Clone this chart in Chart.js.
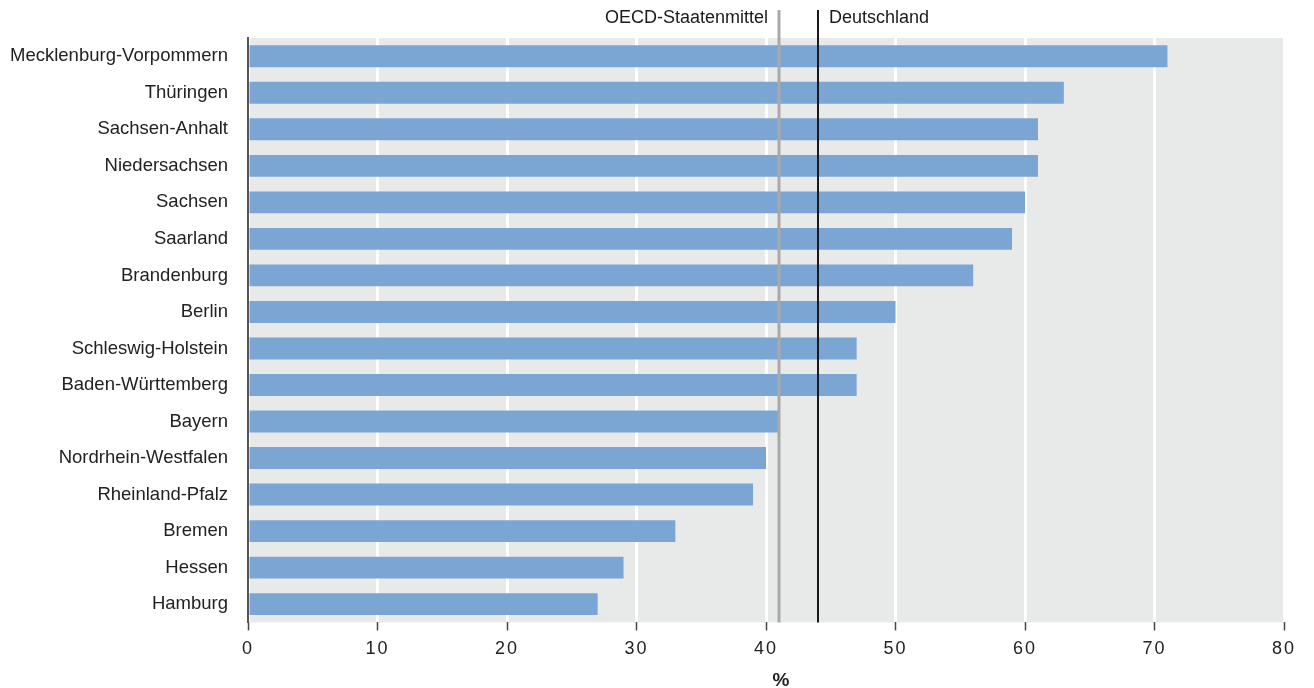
<!DOCTYPE html>
<html><head><meta charset="utf-8">
<script src="https://cdn.jsdelivr.net/npm/chart.js@4"></script>
<style>html,body{margin:0;padding:0;background:#fff;}canvas{display:block;}</style>
</head><body>
<canvas id="c" width="1314" height="688"></canvas>
<script>
const categories = ["Mecklenburg-Vorpommern","Thüringen","Sachsen-Anhalt","Niedersachsen","Sachsen","Saarland","Brandenburg","Berlin","Schleswig-Holstein","Baden-Württemberg","Bayern","Nordrhein-Westfalen","Rheinland-Pfalz","Bremen","Hessen","Hamburg"];
const values = [71, 63, 61, 61, 60, 59, 56, 50, 47, 47, 41, 40, 39, 33, 29, 27];
const refLabels = ["OECD-Staatenmittel", "Deutschland"];
const refValues = [41, 44];
const xTicks = [0, 10, 20, 30, 40, 50, 60, 70, 80];
const axisTitle = "%";

const FONT = "'Liberation Sans', Arial, sans-serif";

const bgPlugin = {
  id: 'bg',
  afterLayout(chart) {
    const s = chart.scales.x;
    if (s && !s._ls) {
      const orig = s.drawLabels.bind(s);
      s.drawLabels = function (ca) {
        const ctx = this.ctx;
        ctx.save();
        ctx.letterSpacing = '2px';
        orig(ca);
        ctx.restore();
      };
      s._ls = true;
    }
  },
  beforeDraw(chart) {
    const {ctx, chartArea: a} = chart;
    ctx.save();
    ctx.fillStyle = '#e8e9e9';
    ctx.fillRect(a.left, a.top, a.right - a.left, a.bottom - a.top);
    ctx.restore();
  }
};
const refPlugin = {
  id: 'refs',
  afterDatasetsDraw(chart) {
    const {ctx, chartArea: a} = chart;
    const xs = chart.scales.x;
    const styles = [{c:'#a9a9a9', w:3, align:'right'}, {c:'#1a1a1a', w:2, align:'left'}];
    ctx.save();
    refValues.forEach((v, i) => {
      const x = Math.round(xs.getPixelForValue(v));
      const s = styles[i];
      ctx.strokeStyle = s.c;
      ctx.lineWidth = s.w;
      ctx.beginPath();
      ctx.moveTo(x, 10);
      ctx.lineTo(x, a.bottom);
      ctx.stroke();
      ctx.fillStyle = '#1a1a1a';
      ctx.font = '18px ' + FONT;
      ctx.textBaseline = 'middle';
      ctx.textAlign = s.align;
      ctx.fillText(refLabels[i], s.align === 'right' ? x - 11 : x + 11, 18);
    });
    ctx.restore();
  },
  afterDraw(chart) {
    const {ctx, chartArea: a} = chart;
    ctx.save();
    ctx.fillStyle = '#222';
    ctx.font = 'bold 19px ' + FONT;
    ctx.textAlign = 'center';
    ctx.textBaseline = 'middle';
    ctx.fillText(axisTitle, (a.left + a.right) / 2 + 15, 681);
    ctx.restore();
  }
};

new Chart(document.getElementById('c'), {
  type: 'bar',
  data: {
    labels: categories,
    datasets: [{ data: values, backgroundColor: '#7ba6d4', borderWidth: 0, categoryPercentage: 1, barPercentage: 0.6 }]
  },
  options: {
    indexAxis: 'y',
    responsive: false,
    animation: false,
    layout: { padding: { top: 38, right: 30, left: 0, bottom: 20 } },
    plugins: { legend: { display: false }, tooltip: { enabled: false } },
    scales: {
      x: {
        min: 0, max: 80,
        afterBuildTicks(scale) { scale.ticks = xTicks.map(v => ({ value: v })); },
        grid: { color: '#ffffff', lineWidth: 3, tickColor: '#444', tickWidth: 1.5, tickLength: 8, drawOnChartArea: true },
        border: { display: false },
        ticks: { color: '#222', font: { family: FONT, size: 18 }, padding: 8, maxRotation: 0 },
        title: { display: false }
      },
      y: {
        grid: { display: false, drawTicks: false },
        border: { display: true, color: '#555', width: 2 },
        ticks: { color: '#222', font: { family: FONT, size: 18.5 }, padding: 20 },
        afterFit(scale) { scale.width = 248; }
      }
    }
  },
  plugins: [bgPlugin, refPlugin]
});
</script>
</body></html>
